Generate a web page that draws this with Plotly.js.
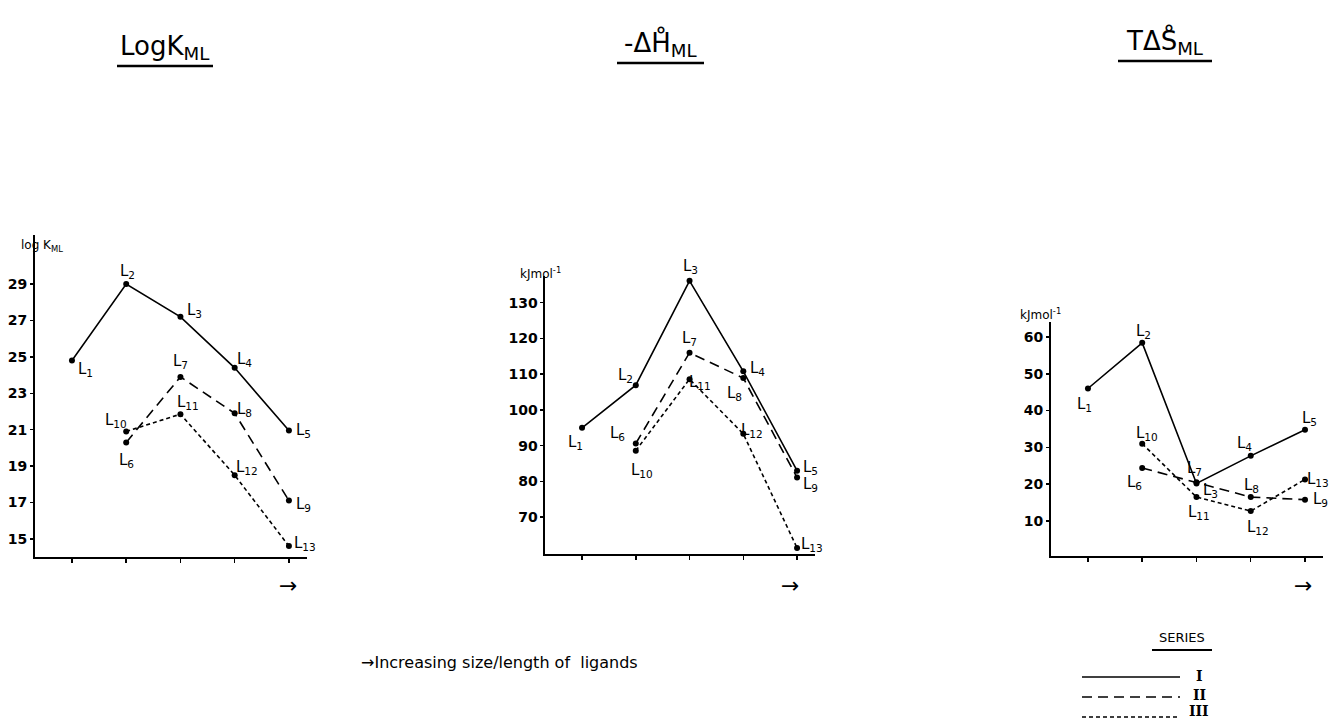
<!DOCTYPE html>
<html>
<head>
<meta charset="utf-8">
<script src="https://cdn.plot.ly/plotly-3.0.1.min.js"></script>
<style>html,body{margin:0;padding:0;background:#fff;}#chart{width:1334px;height:725px;}</style>
</head>
<body>
<div id="chart"></div>
<script>
// ---- data ----
const posI = [1, 2, 3, 4, 5];
const posII = [2, 3, 4, 5];
const posIII = [2, 3, 4, 5];
const labelsI = ['1', '2', '3', '4', '5'];
const labelsII = ['6', '7', '8', '9'];
const labelsIII = ['10', '11', '12', '13'];

const logK_I = [24.8, 29.0, 27.2, 24.4, 20.95];
const logK_II = [20.3, 23.9, 21.9, 17.1];
const logK_III = [20.9, 21.85, 18.5, 14.6];

const dH_I = [95, 106.9, 136.1, 110.8, 83];
const dH_II = [90.6, 116, 108.9, 81.1];
const dH_III = [88.6, 108.6, 93.3, 61.4];

const TdS_I = [46, 58.4, 20.2, 27.7, 34.8];
const TdS_II = [24.4, 20.5, 16.5, 15.8];
const TdS_III = [31, 16.5, 12.7, 21.3];

const logK_ticks = [15, 17, 19, 21, 23, 25, 27, 29];
const dH_ticks = [70, 80, 90, 100, 110, 120, 130];
const TdS_ticks = [10, 20, 30, 40, 50, 60];
const seriesNames = ['I', 'II', 'III'];

// ---- styling ----
const FONT = 'DejaVu Sans, Liberation Sans, sans-serif';
const dashes = ['solid', '10px,6px', '4px,3px'];

const panels = [
  {ax: '', data: [logK_I, logK_II, logK_III],
   offs: [[[14,-9],[1,13],[14,6],[10,8],[15,0]], [[0,-18],[0,15],[10,4],[15,-4]], [[-10,11],[8,12],[12,8],[16,3]]]},
  {ax: '2', data: [dH_I, dH_II, dH_III],
   offs: [[[-7,-15],[-10,10],[1,14],[14,3],[13,3]], [[-18,10],[0,14],[-9,-15],[13,-7]], [[6,-20],[10,-3],[9,3],[15,3]]]},
  {ax: '3', data: [TdS_I, TdS_II, TdS_III],
   offs: [[[-3,-16],[1,11],[14,-7],[-6,12],[4,11]], [[-8,-14],[-2,14],[1,12],[15,0]], [[5,10],[3,-15],[7,-16],[13,0]]]}
];
const positions = [posI, posII, posIII];
const labels = [labelsI, labelsII, labelsIII];

const traces = [];
const annotations = [];
panels.forEach(p => {
  p.data.forEach((vals, s) => {
    traces.push({
      x: positions[s], y: vals, type: 'scatter', mode: 'lines+markers',
      xaxis: 'x' + p.ax, yaxis: 'y' + p.ax, name: 'Series ' + seriesNames[s],
      line: {color: '#000', width: 1.6, dash: dashes[s]},
      marker: {color: '#000', size: 6},
      cliponaxis: false, hoverinfo: 'skip'
    });
    vals.forEach((v, i) => {
      annotations.push({
        x: positions[s][i], y: v, xref: 'x' + p.ax, yref: 'y' + p.ax,
        xanchor: 'center', yanchor: 'middle',
        text: 'L<sub>' + labels[s][i] + '</sub>', showarrow: false,
        xshift: p.offs[s][i][0], yshift: p.offs[s][i][1],
        font: {family: FONT, size: 15, color: '#000'}
      });
    });
  });
});

function xa(domain) {
  return {domain: domain, range: [0.32, 5.34], showline: true, linecolor: '#000', linewidth: 2,
    ticks: 'outside', ticklen: 4, tickwidth: 1.5, tickcolor: '#000', tickvals: [1, 2, 3, 4, 5],
    showticklabels: false, showgrid: false, zeroline: false, fixedrange: true};
}
function ya(domain, range, ticks, anchor) {
  return {domain: domain, range: range, anchor: anchor, showline: true, linecolor: '#000', linewidth: 2,
    ticks: 'outside', ticklen: 3, tickwidth: 1.5, tickcolor: '#000', tickvals: ticks,
    tickfont: {family: FONT, size: 14, color: '#000', weight: 'bold'},
    showgrid: false, zeroline: false, fixedrange: true};
}

function paperAnn(x, y, text, size, fontExtra) {
  return {xref: 'paper', yref: 'paper', x: x / 1334, y: 1 - y / 725, text: text,
    xanchor: 'center', yanchor: 'middle', showarrow: false,
    font: Object.assign({family: FONT, size: size, color: '#000'}, fontExtra || {})};
}

// titles
annotations.push(paperAnn(165, 47, 'LogK<sub>ML</sub>', 26));
annotations.push(paperAnn(660, 43, '-ΔH̊<sub>ML</sub>', 26));
annotations.push(paperAnn(1165, 41, 'TΔS̊<sub>ML</sub>', 26));
// axis unit labels
annotations.push(paperAnn(42, 246, 'log K<sub>ML</sub>', 12));
annotations.push(paperAnn(540, 273, 'kJmol<sup>-1</sup>', 12));
annotations.push(paperAnn(1040, 314, 'kJmol<sup>-1</sup>', 12));
// arrows
annotations.push(paperAnn(288, 585, '→', 22));
annotations.push(paperAnn(790, 585, '→', 22));
annotations.push(paperAnn(1303, 585, '→', 22));
// note
annotations.push(paperAnn(500, 662, '→Increasing size/length of  ligands', 16));
// legend
annotations.push(paperAnn(1182, 637, 'SERIES', 13));
const romanFont = {family: 'DejaVu Serif, serif', weight: 'bold'};
annotations.push(paperAnn(1199, 676, 'I', 14, romanFont));
annotations.push(paperAnn(1199, 695, 'II', 14, romanFont));
annotations.push(paperAnn(1199, 711, 'III', 14, romanFont));

function pline(x0, y0, x1, y1, w, dash) {
  return {type: 'line', xref: 'paper', yref: 'paper', x0: x0 / 1334, x1: x1 / 1334,
    y0: 1 - y0 / 725, y1: 1 - y1 / 725, line: {color: '#000', width: w, dash: dash || 'solid'}};
}
const shapes = [
  pline(117, 66, 213, 66, 2.5), pline(617, 63, 704, 63, 2.5), pline(1118, 61, 1212, 61, 2.5),
  pline(1152, 650, 1212, 650, 2),
  pline(1082, 677, 1180, 677, 1.6), pline(1082, 697, 1180, 697, 1.6, '10px,6px'),
  pline(1082, 717, 1180, 717, 1.6, '4px,3px')
];

const layout = {
  width: 1334, height: 725, margin: {l: 0, r: 0, t: 0, b: 0},
  paper_bgcolor: '#fff', plot_bgcolor: '#fff', showlegend: false,
  font: {family: FONT, color: '#000'},
  xaxis: Object.assign(xa([0.0263, 0.2304]), {anchor: 'y'}),
  yaxis: ya([0.2317, 0.6759], [14.0, 31.7], logK_ticks, 'x'),
  xaxis2: Object.assign(xa([0.4089, 0.6112]), {anchor: 'y2'}),
  yaxis2: ya([0.2359, 0.6196], [59.72, 137.5], dH_ticks, 'x2'),
  xaxis3: Object.assign(xa([0.7879, 0.9921]), {anchor: 'y3'}),
  yaxis3: ya([0.2331, 0.5559], [0.49, 64.08], TdS_ticks, 'x3'),
  annotations: annotations, shapes: shapes
};

Plotly.newPlot('chart', traces, layout, {staticPlot: true, displayModeBar: false});
</script>
</body>
</html>
